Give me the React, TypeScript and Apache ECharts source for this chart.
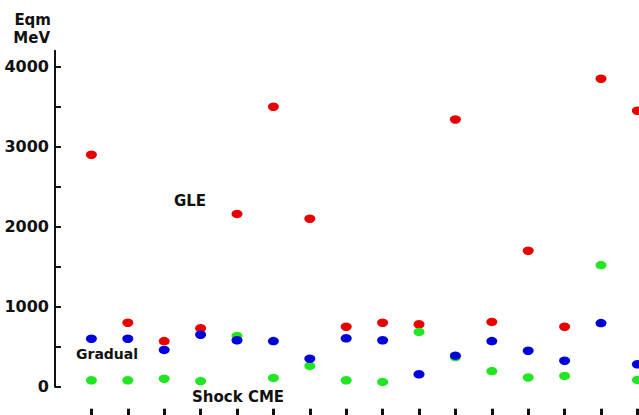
import { useEffect, useRef } from "react";
import * as echarts from "echarts";

// Event index along the horizontal axis
const events = [1, 2, 3, 4, 5, 6, 7, 8, 9, 10, 11, 12, 13, 14, 15, 16];

// Equivalent energy (MeV) per event, for each class
const gleMeV = [2900, 800, 570, 730, 2160, 3500, 2100, 750, 800, 780, 3340, 810, 1700, 750, 3850, 3450];
const gradualMeV = [600, 600, 460, 650, 580, 570, 350, 605, 580, 155, 388, 570, 450, 325, 795, 280];
const shockMeV = [80, 80, 100, 70, 635, 110, 260, 80, 60, 685, 370, 195, 115, 135, 1520, 85];

// Axis ticks
const yTickValues = [0, 500, 1000, 1500, 2000, 2500, 3000, 3500, 4000];
const yLabelValues = [0, 1000, 2000, 3000, 4000];

const FONT = "DejaVu Sans";
const INK = "#111111";

const pairs = (ys: number[]) => events.map((x, i) => [x, ys[i]]);

export default function App() {
  const ref = useRef<HTMLDivElement>(null);

  useEffect(() => {
    if (!ref.current) return;
    const chart = echarts.init(ref.current, null, { renderer: "svg" });

    const dot = (name: string, color: string, ys: number[]) => ({
      name,
      type: "scatter",
      data: pairs(ys),
      symbol: "circle",
      symbolSize: [11, 8.5],
      itemStyle: { color, opacity: 1 },
      emphasis: { disabled: true },
    });

    const note = (text: string, x: number, y: number, size: number, align = "left") => ({
      type: "text",
      x,
      y,
      style: {
        text,
        align,
        verticalAlign: "middle",
        fill: INK,
        font: `bold ${size}px "${FONT}"`,
      },
    });

    chart.setOption({
      animation: false,
      backgroundColor: "#ffffff",
      grid: {
        left: 55,
        top: 50.7,
        width: 17 * 36.4,
        height: 336,
        containLabel: false,
        outerBoundsMode: "none",
      },
      xAxis: {
        type: "value",
        min: 0,
        max: 17,
        interval: 1,
        offset: 22,
        axisLine: { show: false, onZero: false },
        axisTick: {
          show: true,
          inside: false,
          length: 8,
          customValues: events,
          lineStyle: { color: INK, width: 3 },
        },
        axisLabel: { show: false },
        splitLine: { show: false },
      },
      yAxis: {
        type: "value",
        min: 0,
        max: 4200,
        axisLine: { show: true, lineStyle: { color: INK, width: 2 } },
        axisTick: {
          show: true,
          inside: true,
          length: 6,
          customValues: yTickValues,
          lineStyle: { color: INK, width: 2 },
        },
        axisLabel: {
          show: true,
          customValues: yLabelValues,
          formatter: (v: number) => String(v),
          margin: 6,
          color: INK,
          fontFamily: FONT,
          fontWeight: "bold",
          fontSize: 16,
        },
        splitLine: { show: false },
      },
      graphic: [
        note("Eqm", 51, 20, 15, "right"),
        note("MeV", 50, 38, 15, "right"),
        note("GLE", 174, 201, 15),
        note("Gradual", 76, 354, 14),
        note("Shock CME", 192, 397, 15),
      ],
      series: [
        dot("GLE", "#e80000", gleMeV),
        dot("Shock CME", "#22e622", shockMeV),
        dot("Gradual", "#0000d8", gradualMeV),
      ],
    });

    return () => chart.dispose();
  }, []);

  return (
    <div
      ref={ref}
      style={{ position: "fixed", left: 0, top: 0, width: 639, height: 415, background: "#fff" }}
    />
  );
}
